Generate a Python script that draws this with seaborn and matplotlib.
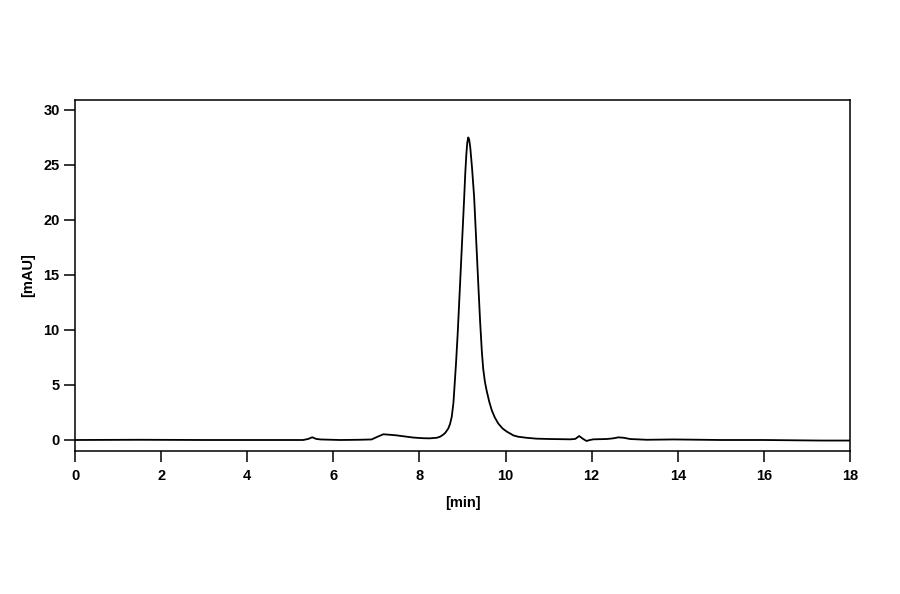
import numpy as np
import pandas as pd
import seaborn as sns
import matplotlib
matplotlib.use("Agg")
import matplotlib.pyplot as plt

# Chromatogram trace
time_min = [0.0, 1.5, 3.0, 4.5, 5.0, 5.3, 5.42, 5.51, 5.6, 5.7, 6.15, 6.6, 6.89, 7.0,
            7.16, 7.3, 7.47, 7.86, 8.1, 8.24, 8.4, 8.48, 8.55, 8.6, 8.67, 8.71, 8.75,
            8.79, 8.82, 8.85, 8.89, 8.94, 9.04, 9.065, 9.09, 9.11, 9.134, 9.155, 9.18,
            9.22, 9.27, 9.32, 9.37, 9.41, 9.45, 9.48, 9.52, 9.56, 9.62, 9.68, 9.75,
            9.83, 9.93, 10.03, 10.18, 10.29, 10.49, 10.72, 11.03, 11.5, 11.62,
            11.71, 11.8, 11.88, 11.96, 12.04, 12.35, 12.5, 12.62, 12.75, 12.89, 13.28,
            13.9, 15.0, 16.0, 17.3, 18.0]
signal_mau = [0.0, 0.02, 0.0, 0.0, 0.0, 0.0, 0.1, 0.25, 0.1, 0.05, 0.0, 0.02, 0.05, 0.25,
              0.52, 0.48, 0.42, 0.22, 0.16, 0.15, 0.2, 0.3, 0.48, 0.65, 1.05, 1.45, 2.1,
              3.4, 5.2, 7.0, 9.8, 13.9, 22.1, 24.3, 26.0, 27.0, 27.5, 27.3, 26.6,
              24.8, 22.1, 18.0, 13.9, 10.7, 8.0, 6.5, 5.3, 4.5, 3.5, 2.7, 2.05,
              1.5, 1.05, 0.76, 0.42, 0.3, 0.2, 0.12, 0.09, 0.06, 0.1,
              0.36, 0.1, -0.09, 0.0, 0.06, 0.09, 0.15, 0.24, 0.2, 0.09, 0.02,
              0.05, 0.0, 0.0, -0.05, -0.05]

x_ticks = [0, 2, 4, 6, 8, 10, 12, 14, 16, 18]
y_ticks = [0, 5, 10, 15, 20, 25, 30]

df = pd.DataFrame({"time": time_min, "signal": signal_mau})

sns.set_style("ticks")
plt.rcParams["font.family"] = ["Liberation Sans", "DejaVu Sans"]
plt.rcParams["font.weight"] = "bold"

fig = plt.figure(figsize=(9, 5.94), dpi=100)
ax = fig.add_axes([75 / 900, 1 - 451 / 594, 775 / 900, 351 / 594])

sns.lineplot(data=df, x="time", y="signal", color="black", linewidth=1.3, ax=ax)

ax.set_xlim(0, 18)
ax.set_ylim(-1, 30.9)
ax.set_xticks(x_ticks)
ax.set_yticks(y_ticks)
ax.tick_params(axis="both", direction="out", length=8, width=1.1, labelsize=10.5,
               color="black", labelcolor="black")
ax.tick_params(axis="x", pad=5)
ax.tick_params(axis="y", pad=3)
for lbl in ax.get_xticklabels() + ax.get_yticklabels():
    lbl.set_fontweight("bold")

for side in ["left", "right", "top", "bottom"]:
    ax.spines[side].set_visible(True)
    ax.spines[side].set_linewidth(1.1)
    ax.spines[side].set_color("black")

ax.set_xlabel("[min]", fontsize=10.5, fontweight="bold", color="black", labelpad=9)
ax.set_ylabel("[mAU]", fontsize=10.5, fontweight="bold", color="black", labelpad=6)

fig.savefig("out.png", dpi=100)
